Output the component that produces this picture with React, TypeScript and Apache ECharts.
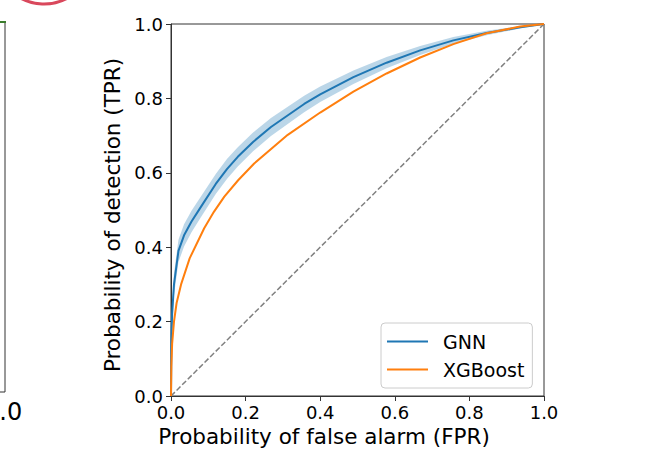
import React, { useEffect, useRef } from "react";
import * as echarts from "echarts";

// GNN ROC curve (mean) and its shaded band
const gnnFpr = [0, 0.001, 0.003, 0.008, 0.02, 0.035, 0.055, 0.078, 0.12, 0.15, 0.179, 0.22, 0.268, 0.357, 0.4, 0.489, 0.578, 0.668, 0.757, 0.846, 0.936, 1];
const gnnTpr = [0, 0.15, 0.22, 0.3, 0.39, 0.432, 0.469, 0.505, 0.57, 0.61, 0.643, 0.683, 0.723, 0.785, 0.811, 0.857, 0.896, 0.929, 0.956, 0.976, 0.991, 1];
const gnnLower = [0, 0.12, 0.19, 0.27, 0.36, 0.402, 0.44, 0.477, 0.543, 0.583, 0.617, 0.658, 0.699, 0.763, 0.79, 0.839, 0.881, 0.917, 0.947, 0.97, 0.988, 1];
const gnnUpper = [0, 0.18, 0.25, 0.33, 0.42, 0.462, 0.498, 0.533, 0.597, 0.637, 0.669, 0.708, 0.747, 0.807, 0.832, 0.875, 0.911, 0.941, 0.965, 0.982, 0.994, 1];

// XGBoost ROC curve
const xgbFpr = [0, 0.001, 0.003, 0.008, 0.015, 0.027, 0.05, 0.089, 0.115, 0.143, 0.18, 0.223, 0.313, 0.4, 0.489, 0.578, 0.668, 0.757, 0.846, 0.936, 1];
const xgbTpr = [0, 0.08, 0.14, 0.2, 0.25, 0.3, 0.37, 0.451, 0.495, 0.536, 0.58, 0.625, 0.702, 0.762, 0.818, 0.867, 0.91, 0.946, 0.975, 0.993, 1];

// chance diagonal
const chanceFpr = [0, 1];
const chanceTpr = [0, 1];

const seriesNames = ["GNN", "XGBoost"];
const xAxisTitle = "Probability of false alarm (FPR)";
const yAxisTitle = "Probability of detection (TPR)";

const FONT = "DejaVu Sans";

export default function App() {
  const ref = useRef<HTMLDivElement>(null);
  useEffect(() => {
    if (!ref.current) return;
    const chart = echarts.init(ref.current, null, { renderer: "svg" });
    const axisCommon = {
      type: "value",
      min: 0,
      max: 1,
      interval: 0.2,
      splitLine: { show: false },
      axisLine: { show: true, onZero: false, lineStyle: { color: "#333", width: 1 } },
      axisTick: { show: true, inside: false, length: 5, lineStyle: { color: "#333", width: 1 } },
      nameLocation: "middle",
    };
    chart.setOption({
      animation: false,
      backgroundColor: "#fff",
      textStyle: { fontFamily: FONT },
      grid: {
        left: 171,
        right: 102,
        top: 24,
        bottom: 64,
        show: true,
        borderColor: "#333",
        borderWidth: 1,
        backgroundColor: "transparent",
      },
      xAxis: {
        ...axisCommon,
        name: xAxisTitle,
        nameGap: 28,
        nameTextStyle: { fontFamily: FONT, fontSize: 21.5, color: "#000", padding: [0, 67, 0, 0] },
        axisLabel: {
          fontFamily: FONT,
          fontSize: 18,
          color: "#000",
          margin: 7,
          formatter: (v: number) => v.toFixed(1),
        },
      },
      yAxis: {
        ...axisCommon,
        name: yAxisTitle,
        nameGap: 48,
        nameTextStyle: { fontFamily: FONT, fontSize: 21.5, color: "#000", padding: [0, 10, 0, 0] },
        axisLabel: {
          fontFamily: FONT,
          fontSize: 18,
          color: "#000",
          margin: 8,
          formatter: (v: number) => v.toFixed(1),
        },
      },
      legend: {
        data: seriesNames,
        orient: "vertical",
        left: 381,
        top: 323,
        icon: "rect",
        itemWidth: 41,
        itemHeight: 2,
        itemGap: 9,
        padding: [9, 8, 9, 6],
        backgroundColor: "#fff",
        borderColor: "#cccccc",
        borderWidth: 1,
        borderRadius: 4,
        textStyle: { fontFamily: FONT, fontSize: 19, color: "#000", padding: [0, 0, 0, 10] },
      },
      graphic: [
        { type: "circle", shape: { cx: 44, cy: -46, r: 50 }, style: { fill: "none", stroke: "#d9485c", lineWidth: 3 } },
        { type: "line", shape: { x1: 5, y1: 22, x2: 5, y2: 392 }, style: { stroke: "#333", lineWidth: 1 } },
        { type: "line", shape: { x1: 0, y1: 392, x2: 5, y2: 392 }, style: { stroke: "#333", lineWidth: 1 } },
        { type: "line", shape: { x1: 0, y1: 22, x2: 6, y2: 22 }, style: { stroke: "#3a7d2c", lineWidth: 2 } },
        { type: "text", x: -16, y: 400, style: { text: "1.0", fontFamily: FONT, fontSize: 24, fill: "#000" } },
      ],
      series: [
        {
          type: "line",
          name: "chance",
          data: chanceFpr.map((x, i) => [x, chanceTpr[i]]),
          symbol: "none",
          lineStyle: { color: "#808080", width: 1.5, type: [5.5, 2.4] },
          z: 1,
          silent: true,
        },
        {
          type: "custom",
          name: "GNN band",
          data: [[0, 0]],
          silent: true,
          z: 2,
          renderItem: (params: any, api: any) => {
            const up = gnnFpr.map((x, i) => api.coord([x, gnnUpper[i]]));
            const lo = gnnFpr.map((x, i) => api.coord([x, gnnLower[i]])).reverse();
            return {
              type: "polygon",
              shape: { points: up.concat(lo) },
              style: { fill: "rgba(31,119,180,0.3)", stroke: "none" },
            };
          },
        },
        {
          type: "line",
          name: "GNN",
          data: gnnFpr.map((x, i) => [x, gnnTpr[i]]),
          symbol: "none",
          smooth: false,
          color: "#1f77b4",
          lineStyle: { color: "#1f77b4", width: 2, join: "round" },
          z: 3,
        },
        {
          type: "line",
          name: "XGBoost",
          data: xgbFpr.map((x, i) => [x, xgbTpr[i]]),
          symbol: "none",
          smooth: false,
          color: "#ff7f0e",
          lineStyle: { color: "#ff7f0e", width: 2, join: "round" },
          z: 3,
        },
      ],
    });
    return () => chart.dispose();
  }, []);
  return <div ref={ref} style={{ width: 646, height: 460, position: "absolute", left: 0, top: 0 }} />;
}
